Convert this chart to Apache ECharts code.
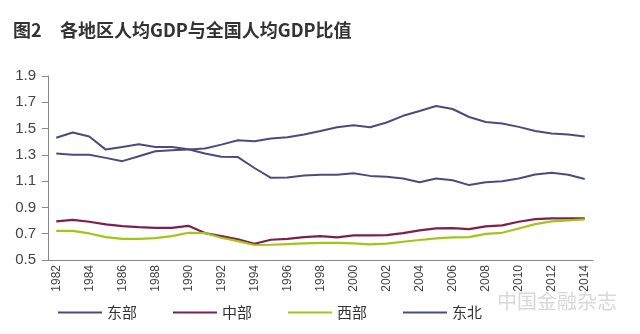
<!DOCTYPE html>
<html>
<head>
<meta charset="utf-8">
<script src="https://cdn.jsdelivr.net/npm/echarts@6/dist/echarts.min.js"></script>
<style>html,body{margin:0;padding:0;background:#fff;}#c{width:640px;height:334px;}</style>
</head>
<body>
<div id="c"></div>
<script>
var years = [];
for (var y = 1982; y <= 2014; y++) years.push(String(y));
var dongbu = [1.31,1.30,1.30,1.277,1.252,1.29,1.328,1.335,1.341,
  1.348,1.378,1.411,1.404,1.424,1.434,1.455,1.482,1.51,1.525,
  1.51,1.546,1.597,1.634,1.672,1.649,1.588,1.55,1.538,1.513,
  1.482,1.462,1.455,1.44];
var zhongbu = [0.794,0.806,0.791,0.771,0.758,0.750,0.745,0.745,0.760,
  0.705,0.682,0.657,0.624,0.654,0.661,0.674,0.682,0.672,0.687,
  0.687,0.689,0.705,0.725,0.740,0.743,0.735,0.756,0.763,0.791,
  0.811,0.816,0.816,0.816];
var xibu = [0.722,0.722,0.702,0.674,0.661,0.661,0.667,0.682,0.707,
  0.705,0.669,0.644,0.614,0.616,0.621,0.626,0.631,0.631,0.626,
  0.619,0.624,0.639,0.652,0.664,0.672,0.674,0.699,0.707,0.740,
  0.773,0.794,0.801,0.809];
var dongbei = [1.43,1.47,1.44,1.34,1.36,1.38,1.36,1.36,1.343,
  1.31,1.285,1.283,1.20,1.125,1.127,1.143,1.148,1.148,1.16,
  1.14,1.133,1.12,1.092,1.12,1.107,1.07,1.092,1.10,1.12,
  1.15,1.163,1.148,1.117];
var seriesNames = ['东部','中部','西部','东北'];
var colors = ['#4a4c7e','#7e1f4c','#a2c516','#4a4c7e'];

var chart = echarts.init(document.getElementById('c'), null, {renderer:'canvas'});
function mk(name, data, color, w) {
  return {name:name, type:'line', data:data, symbol:'none', smooth:false,
    lineStyle:{color:color, width:w}, itemStyle:{color:color}};
}
chart.setOption({
  animation:false,
  color: colors,
  grid:{left:48, right:47, top:76, bottom:74},
  graphic:[
    {type:'text', left:13, top:21, style:{text:'图2', font:'bold 18px "Noto Sans CJK SC"', fill:'#333'}},
    {type:'text', left:60, top:21, style:{text:'各地区人均GDP与全国人均GDP比值', font:'bold 18px "Noto Sans CJK SC"', fill:'#333'}},
    {type:'text', left:497, top:291, style:{text:'中国金融杂志', font:'20px "Noto Sans CJK SC"', fill:'#d8d8d8'}}
  ],
  legend:{
    data: seriesNames.map(function(n){return {name:n, icon:'rect'};}),
    left:58, top:305, padding:0, itemWidth:44, itemHeight:2, itemGap:36,
    textStyle:{fontSize:15, color:'#333', fontFamily:'"Noto Sans CJK SC"'}
  },
  xAxis:{
    type:'category', data:years, boundaryGap:true,
    axisLine:{lineStyle:{color:'#888', width:1}},
    axisTick:{interval:0, length:5, lineStyle:{color:'#888'}},
    axisLabel:{interval:1, rotate:90, fontSize:12, color:'#444', margin:5, fontFamily:'"Liberation Sans"'},
    splitLine:{show:false}
  },
  yAxis:{
    type:'value', min:0.5, max:1.9, interval:0.2,
    axisLine:{show:true, lineStyle:{color:'#888', width:1}},
    axisTick:{show:true, length:6, lineStyle:{color:'#888'}},
    axisLabel:{fontSize:15, color:'#444', margin:12, fontFamily:'"Liberation Sans"',
      formatter:function(v){return v.toFixed(1);}},
    splitLine:{show:false}
  },
  series:[
    mk('东部', dongbu, colors[0], 2),
    mk('中部', zhongbu, colors[1], 2.2),
    mk('西部', xibu, colors[2], 2.2),
    mk('东北', dongbei, colors[3], 2)
  ]
});
</script>
</body>
</html>
